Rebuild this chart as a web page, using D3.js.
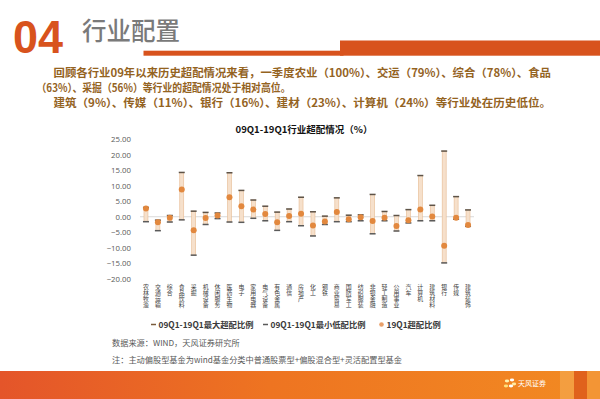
<!DOCTYPE html>
<html>
<head>
<meta charset="utf-8">
<script src="https://cdn.jsdelivr.net/npm/d3@7"></script>
<style>
  html, body { margin: 0; padding: 0; background: #fff; }
  svg { display: block; font-family: "Noto Sans CJK SC", "Noto Sans", sans-serif; }
</style>
</head>
<body>
<div class="plot"></div>
<script>
var width = 600, height = 399;

// industries, left to right
var categories = ["农林牧渔","交通运输","综合","食品饮料","采掘","机械设备","休闲服务","医药生物","电子","家用电器",
  "电气设备","有色金属","通信","房地产","化工","钢铁","商业贸易","国防军工","纺织服装","非银金融",
  "轻工制造","公用事业","汽车","计算机","建筑材料","银行","传媒","建筑装饰"];

// 09Q1-19Q1 max overweight (%)
var maxVals = [3.0, -1.1, 0.4, 14.3, 1.8, 1.4, 1.2, 14.2, 8.5, 5.4, 3.4, 1.5, 2.5, 6.3, 1.6, 0.2, 6.1, 0.5, 0.6, 7.2,
  1.7, 0.4, 2.3, 13.3, 3.7, 21.2, 6.5, 2.2];
// 09Q1-19Q1 min (%)
var minVals = [-1.6, -4.5, -1.7, -1.0, -12.4, -2.5, -0.6, -1.7, -1.8, -0.5, -1.3, -4.4, -1.6, -2.9, -6.2, -2.5, -1.6, -1.6, -1.3, -5.5,
  -1.3, -4.6, -2.0, -1.3, -1.3, -14.9, -0.8, -3.1];
// 19Q1 overweight (%)
var q1Vals = [2.7, -1.8, -0.3, 8.8, -4.4, -0.4, 0.4, 6.3, 3.4, 2.3, 0.9, -1.8, 0.2, 1.0, -2.8, -1.5, 1.5, -0.8, -0.2, -1.4,
  -0.3, -3.0, -1.1, 2.3, 0.1, -9.4, -0.3, -2.7];

var yTicks = [-20, -15, -10, -5, 0, 5, 10, 15, 20, 25];

var legends = [
  {label: "09Q1-19Q1最大超配比例", type: "dash", color: "#7a5c3c"},
  {label: "09Q1-19Q1最小低配比例", type: "dash", color: "#5a5a5a"},
  {label: "19Q1超配比例", type: "dot", color: "#e9a06a"}
];

var intro = [
  "回顾各行业09年以来历史超配情况来看，一季度农业（100%）、交运（79%）、综合（78%）、食品",
  "（63%）、采掘（56%）等行业的超配情况处于相对高位。",
  "建筑（9%）、传媒（11%）、银行（16%）、建材（23%）、计算机（24%）等行业处在历史低位。"
];

var svg = d3.select(".plot").append("svg")
  .attr("width", width)
  .attr("height", height);

var defs = svg.append("defs");
var grad = defs.append("linearGradient").attr("id", "band").attr("x1", "0").attr("x2", "1");
grad.append("stop").attr("offset", "0").attr("stop-color", "#e4552a");
grad.append("stop").attr("offset", "0.45").attr("stop-color", "#ee7421");
grad.append("stop").attr("offset", "1").attr("stop-color", "#f28a22");

// page header
svg.append("text")
  .attr("x", 13).attr("y", 53)
  .attr("textLength", 50)
  .attr("lengthAdjust", "spacingAndGlyphs")
  .style("font-family", "'Liberation Sans', Arial, sans-serif")
  .style("font-weight", "bold")
  .style("font-size", "46px")
  .attr("fill", "#d8531d")
  .text("04");

svg.append("text")
  .attr("x", 82).attr("y", 40)
  .attr("textLength", 98)
  .attr("lengthAdjust", "spacingAndGlyphs")
  .style("font-size", "25px")
  .style("font-weight", "500")
  .attr("fill", "#7a7a7a")
  .text("行业配置");

svg.append("rect").attr("x", 143.5).attr("y", 50.7).attr("width", 200).attr("height", 5).attr("fill", "#d8531d");
svg.append("rect").attr("x", 340).attr("y", 40.5).attr("width", 260).attr("height", 15.2).attr("fill", "#d8531d");

// intro text
var introPos = [{x: 53.5, y: 76.5, w: 497.5}, {x: 36.5, y: 91.5, w: 254}, {x: 53.5, y: 106.5, w: 497.5}];
svg.selectAll(".intro")
  .data(intro)
  .enter()
  .append("text")
  .attr("class", "intro")
  .attr("x", function(d, i) { return introPos[i].x; })
  .attr("y", function(d, i) { return introPos[i].y; })
  .attr("textLength", function(d, i) { return introPos[i].w; })
  .attr("lengthAdjust", "spacingAndGlyphs")
  .style("font-size", "11px")
  .style("font-weight", "bold")
  .attr("fill", "#94631f")
  .text(function(d) { return d; });

// chart title
svg.append("text")
  .attr("x", 304).attr("y", 133)
  .attr("text-anchor", "middle")
  .style("font-size", "9.5px")
  .style("font-weight", "bold")
  .attr("fill", "#111")
  .text("09Q1-19Q1行业超配情况（%）");

// scales
var x = d3.scaleBand()
  .domain(categories)
  .range([140, 474]);

var y = d3.scaleLinear()
  .domain([-20, 25])
  .range([278.7, 139.3]);

var yAxis = svg.append("g")
  .attr("transform", "translate(133,0)")
  .call(d3.axisLeft(y).tickValues(yTicks).tickFormat(d3.format(".2f")).tickSize(0).tickPadding(2));
yAxis.select(".domain").remove();
yAxis.selectAll("text")
  .style("font-family", "'Open Sans', 'Liberation Sans', sans-serif")
  .style("font-size", "7.8px")
  .attr("fill", "#595959");

// zero line
svg.append("line")
  .attr("x1", 140).attr("x2", 474)
  .attr("y1", y(0)).attr("y2", y(0))
  .attr("stroke", "#d9d9d9")
  .attr("stroke-width", 1);

var rows = categories.map(function(c, i) {
  return {cat: c, max: maxVals[i], min: minVals[i], q1: q1Vals[i]};
});

var cx = function(d) { return x(d.cat) + x.bandwidth() / 2; };

// high-low bars
svg.append("g").selectAll("rect")
  .data(rows)
  .enter()
  .append("rect")
  .attr("x", function(d) { return cx(d) - 2; })
  .attr("y", function(d) { return y(d.max); })
  .attr("width", 4)
  .attr("height", function(d) { return y(d.min) - y(d.max); })
  .attr("fill", "#f6e0cb")
  .attr("stroke", "#e7bb92")
  .attr("stroke-width", 0.6);

// caps
["max", "min"].forEach(function(k) {
  svg.append("g").selectAll("line")
    .data(rows)
    .enter()
    .append("line")
    .attr("x1", function(d) { return cx(d) - 3; })
    .attr("x2", function(d) { return cx(d) + 3; })
    .attr("y1", function(d) { return y(d[k]); })
    .attr("y2", function(d) { return y(d[k]); })
    .attr("stroke", k == "max" ? "#5e5347" : "#5a5a5a")
    .attr("stroke-width", 1.5);
});

// 19Q1 dots
svg.append("g").selectAll("circle")
  .data(rows)
  .enter()
  .append("circle")
  .attr("cx", cx)
  .attr("cy", function(d) { return y(d.q1); })
  .attr("r", 3)
  .attr("fill", "#e2883e");

// vertical category labels
svg.append("g").selectAll("text")
  .data(categories)
  .enter()
  .append("text")
  .attr("x", function(d) { return x(d) + x.bandwidth() / 2; })
  .attr("y", 284)
  .style("writing-mode", "vertical-rl")
  .style("font-size", "5.9px")
  .attr("fill", "#404040")
  .text(function(d) { return d; });

// legend
var legX = [151, 263, 379];
var leg = svg.append("g").selectAll("g")
  .data(legends)
  .enter()
  .append("g")
  .attr("transform", function(d, i) { return "translate(" + legX[i] + ",324.5)"; });
leg.filter(function(d) { return d.type == "dash"; })
  .append("line")
  .attr("x1", 0).attr("x2", 5).attr("y1", 0).attr("y2", 0)
  .attr("stroke", function(d) { return d.color; })
  .attr("stroke-width", 1.5);
leg.filter(function(d) { return d.type == "dot"; })
  .append("circle")
  .attr("cx", 2.5).attr("cy", 0).attr("r", 2.3)
  .attr("fill", function(d) { return d.color; });
leg.append("text")
  .attr("x", 7.5).attr("y", 3)
  .style("font-size", "8.3px")
  .style("font-weight", "bold")
  .attr("fill", "#3a3a3a")
  .text(function(d) { return d.label; });

// notes
svg.append("text")
  .attr("x", 112).attr("y", 346)
  .style("font-size", "8.2px")
  .attr("fill", "#595959")
  .text("数据来源：WIND，天风证券研究所");
svg.append("text")
  .attr("x", 112).attr("y", 363)
  .style("font-size", "8.2px")
  .attr("fill", "#595959")
  .text("注：主动偏股型基金为wind基金分类中普通股票型+偏股混合型+灵活配置型基金");

// bottom band
svg.append("rect").attr("x", 0).attr("y", 371).attr("width", 600).attr("height", 28).attr("fill", "url(#band)");
svg.append("rect").attr("x", 560).attr("y", 371).attr("width", 14).attr("height", 28).attr("fill", "#f4a449").attr("opacity", 0.8);
svg.append("rect").attr("x", 574).attr("y", 371).attr("width", 13).attr("height", 28).attr("fill", "#e0621c");
svg.append("rect").attr("x", 587).attr("y", 371).attr("width", 13).attr("height", 28).attr("fill", "#f39535");

// logo
var logo = svg.append("g").attr("transform", "translate(510,384)");
[[-3, -3, "#fff3b0"], [2, -4, "#ffffff"], [-4, 2, "#ffe27a"], [1, 2, "#ffffff"], [4, 0, "#ffe9a0"]].forEach(function(p) {
  logo.append("ellipse").attr("cx", p[0]).attr("cy", p[1]).attr("rx", 2.2).attr("ry", 1.4).attr("fill", p[2]);
});
svg.append("text")
  .attr("x", 518).attr("y", 386)
  .style("font-size", "7px")
  .attr("fill", "#fff")
  .text("天风证券");
</script>
</body>
</html>
